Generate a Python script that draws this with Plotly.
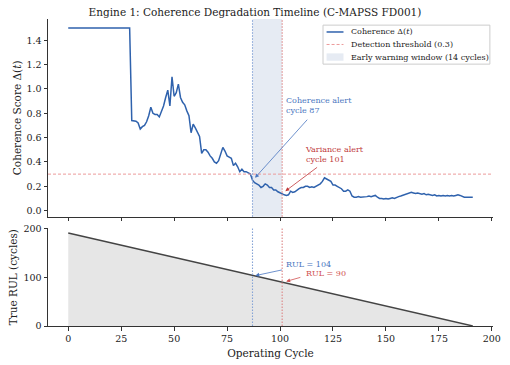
import plotly.graph_objects as go
from plotly.subplots import make_subplots

# ---------------- data ----------------
coherence = [
    1.5, 1.5, 1.5, 1.5, 1.5, 1.5, 1.5, 1.5, 1.5, 1.5,
    1.5, 1.5, 1.5, 1.5, 1.5, 1.5, 1.5, 1.5, 1.5, 1.5,
    1.5, 1.5, 1.5, 1.5, 1.5, 1.5, 1.5, 1.5, 1.5, 1.5,
    0.74, 0.74, 0.735, 0.72, 0.67, 0.69, 0.70, 0.73, 0.78, 0.85,
    0.80, 0.79, 0.79, 0.77, 0.82, 0.86, 0.93, 0.99, 0.86, 1.10,
    0.94, 0.97, 1.04, 0.93, 0.89, 0.87, 0.82, 0.78, 0.64, 0.71,
    0.68, 0.64, 0.61, 0.47, 0.50, 0.50, 0.48, 0.45, 0.43, 0.40,
    0.39, 0.41, 0.46, 0.52, 0.49, 0.45, 0.44, 0.43, 0.37, 0.39,
    0.36, 0.32, 0.34, 0.32, 0.32, 0.31, 0.30, 0.25, 0.23, 0.22,
    0.21, 0.19, 0.20, 0.22, 0.21, 0.19, 0.19, 0.17, 0.17, 0.155,
    0.145, 0.135, 0.13, 0.125, 0.13, 0.16, 0.15, 0.155, 0.17, 0.18,
    0.19, 0.19, 0.20, 0.20, 0.19, 0.195, 0.19, 0.20, 0.21, 0.22,
    0.24, 0.27, 0.26, 0.25, 0.24, 0.21, 0.21, 0.20, 0.19, 0.18,
    0.16, 0.16, 0.17, 0.16, 0.12, 0.11, 0.11, 0.115, 0.11, 0.11,
    0.11, 0.115, 0.12, 0.115, 0.12, 0.125, 0.11, 0.10, 0.10, 0.095,
    0.10, 0.095, 0.10, 0.105, 0.10, 0.11, 0.115, 0.12, 0.125, 0.13,
    0.135, 0.14, 0.15, 0.145, 0.14, 0.145, 0.14, 0.135, 0.14, 0.13,
    0.135, 0.13, 0.125, 0.13, 0.12, 0.125, 0.12, 0.125, 0.12, 0.125,
    0.12, 0.125, 0.12, 0.125, 0.13, 0.125, 0.115, 0.11, 0.11, 0.11,
    0.11, 0.11,
]
cycles = list(range(len(coherence)))

rul_cycles = [0, 191]
rul_values = [191, 0]

threshold = 0.3
coh_alert = 87
var_alert = 101
rul_at_coh = 104
rul_at_var = 90

legend_labels = ["Coherence Δ(<i>t</i>)", "Detection threshold (0.3)",
                 "Early warning window (14 cycles)"]

x_ticks = [0, 25, 50, 75, 100, 125, 150, 175, 200]
top_ticks = [0.0, 0.2, 0.4, 0.6, 0.8, 1.0, 1.2, 1.4]
bot_ticks = [0, 100, 200]

# ---------------- styles ----------------
FONT = "DejaVu Serif"
LINE_BLUE = "#2f62ad"
TXT_BLUE = "#4a76c0"
RED = "#c0393b"
RED2 = "#d05050"
THR = "#ec9a9a"
SHADE = "#e6ebf3"
AX = "#333333"

fig = make_subplots(rows=2, cols=1, shared_xaxes=True,
                    row_heights=[0.66, 0.34], vertical_spacing=0.04)

fig.add_trace(go.Scatter(x=cycles, y=coherence, mode="lines",
                         line=dict(color=LINE_BLUE, width=1.5),
                         showlegend=False), row=1, col=1)

fig.add_trace(go.Scatter(x=rul_cycles, y=rul_values, mode="lines",
                         fill="tozeroy", fillcolor="#e6e6e6",
                         line=dict(color="#444444", width=1.4),
                         showlegend=False), row=2, col=1)

# shaded window & lines
fig.add_shape(type="rect", xref="x", yref="y domain", x0=coh_alert, x1=var_alert,
              y0=0, y1=1, fillcolor=SHADE, line_width=0, layer="below")
fig.add_shape(type="line", xref="x domain", yref="y", x0=0, x1=1,
              y0=threshold, y1=threshold, line=dict(color=THR, width=1, dash="3px,2px"))
for xr, yr in (("x", "y domain"), ("x2", "y2 domain")):
    fig.add_shape(type="line", xref=xr, yref=yr, x0=coh_alert, x1=coh_alert, y0=0, y1=1,
                  line=dict(color="#85a3d6", width=1.1, dash="1.5px,1.5px"))
    fig.add_shape(type="line", xref=xr, yref=yr, x0=var_alert, x1=var_alert, y0=0, y1=1,
                  line=dict(color="#dc8585", width=1.1, dash="1.5px,1.5px"))

# annotations
def arrow(xref, yref, x, y, ax, ay, color):
    fig.add_annotation(xref=xref, yref=yref, x=x, y=y, ax=ax, ay=ay,
                       axref=xref, ayref=yref, text="", showarrow=True,
                       arrowhead=2, arrowsize=1, arrowwidth=0.8, arrowcolor=color)

def label(xref, yref, x, y, text, color, size=8):
    fig.add_annotation(xref=xref, yref=yref, x=x, y=y, text=text, showarrow=False,
                       xanchor="left", yanchor="middle", align="left",
                       font=dict(family=FONT, size=size, color=color))

arrow("x", "y", 88.2, 0.27, 113.5, 0.76, TXT_BLUE)
label("x", "y", 101.8, 0.868, f"Coherence alert<br>cycle {coh_alert}", TXT_BLUE)
arrow("x", "y", 102.5, 0.16, 118.2, 0.365, RED)
label("x", "y", 110.8, 0.465, f"Variance alert<br>cycle {var_alert}", RED)

arrow("x2", "y2", 88.3, 103.4, 101.6, 115.8, TXT_BLUE)
label("x2", "y2", 102.0, 127, f"RUL = {rul_at_coh}", TXT_BLUE)
arrow("x2", "y2", 102.9, 91.6, 110.3, 100.7, RED2)
label("x2", "y2", 111.2, 108, f"RUL = {rul_at_var}", RED2)

# manual legend (paper coords)
fig.add_shape(type="rect", xref="paper", yref="paper", x0=0.618, x1=0.993,
              y0=0.853, y1=0.980, fillcolor="rgba(255,255,255,0.9)",
              line=dict(color="#cccccc", width=1))
rows_y = [0.9577, 0.917, 0.876]
fig.add_shape(type="line", xref="paper", yref="paper", x0=0.626, x1=0.664,
              y0=rows_y[0], y1=rows_y[0], line=dict(color=LINE_BLUE, width=1.5))
fig.add_shape(type="line", xref="paper", yref="paper", x0=0.626, x1=0.664,
              y0=rows_y[1], y1=rows_y[1], line=dict(color=THR, width=1, dash="3px,2px"))
fig.add_shape(type="rect", xref="paper", yref="paper", x0=0.626, x1=0.664,
              y0=rows_y[2] - 0.012, y1=rows_y[2] + 0.012, fillcolor=SHADE, line_width=0)
for yv, txt in zip(rows_y, legend_labels):
    fig.add_annotation(xref="paper", yref="paper", x=0.677, y=yv, text=txt,
                       showarrow=False, xanchor="left", yanchor="middle",
                       font=dict(family=FONT, size=8, color="#222"))

axis_common = dict(showline=True, linecolor=AX, linewidth=1, ticks="outside",
                   ticklen=3.5, tickcolor=AX, showgrid=False, zeroline=False,
                   automargin=False,
                   tickfont=dict(family=FONT, size=9.5, color="#222"))

fig.update_xaxes(range=[-9.55, 200.55], tickvals=x_ticks, **axis_common)
fig.update_xaxes(showticklabels=False, row=1, col=1)
fig.update_xaxes(title=dict(text="Operating Cycle", font=dict(family=FONT, size=10.5, color="#222"),
                            standoff=6), row=2, col=1)
fig.update_yaxes(**axis_common)
fig.update_yaxes(range=[-0.05, 1.575], tickvals=top_ticks, tickformat=".1f",
                 title=dict(text="Coherence Score Δ(<i>t</i>)",
                            font=dict(family=FONT, size=10.5, color="#222"), standoff=2),
                 row=1, col=1)
fig.update_yaxes(range=[0, 200.5], tickvals=bot_ticks,
                 title=dict(text="True RUL (cycles)",
                            font=dict(family=FONT, size=10.5, color="#222"), standoff=3),
                 row=2, col=1)

fig.update_layout(
    width=510, height=365,
    margin=dict(l=48, r=17, t=19, b=39, autoexpand=False),
    paper_bgcolor="white", plot_bgcolor="white",
    font=dict(family=FONT, color="#222"),
    showlegend=False,
    title=dict(text="Engine 1: Coherence Degradation Timeline (C-MAPSS FD001)",
               x=0.5, xanchor="center", y=0.967, yanchor="middle",
               font=dict(family=FONT, size=10.5, color="#222")),
)
fig.layout.xaxis.domain = [0, 1]
fig.layout.yaxis.domain = [0.356, 1.0]
fig.layout.yaxis2.domain = [0.0, 0.318]

fig.write_html("out.html")
